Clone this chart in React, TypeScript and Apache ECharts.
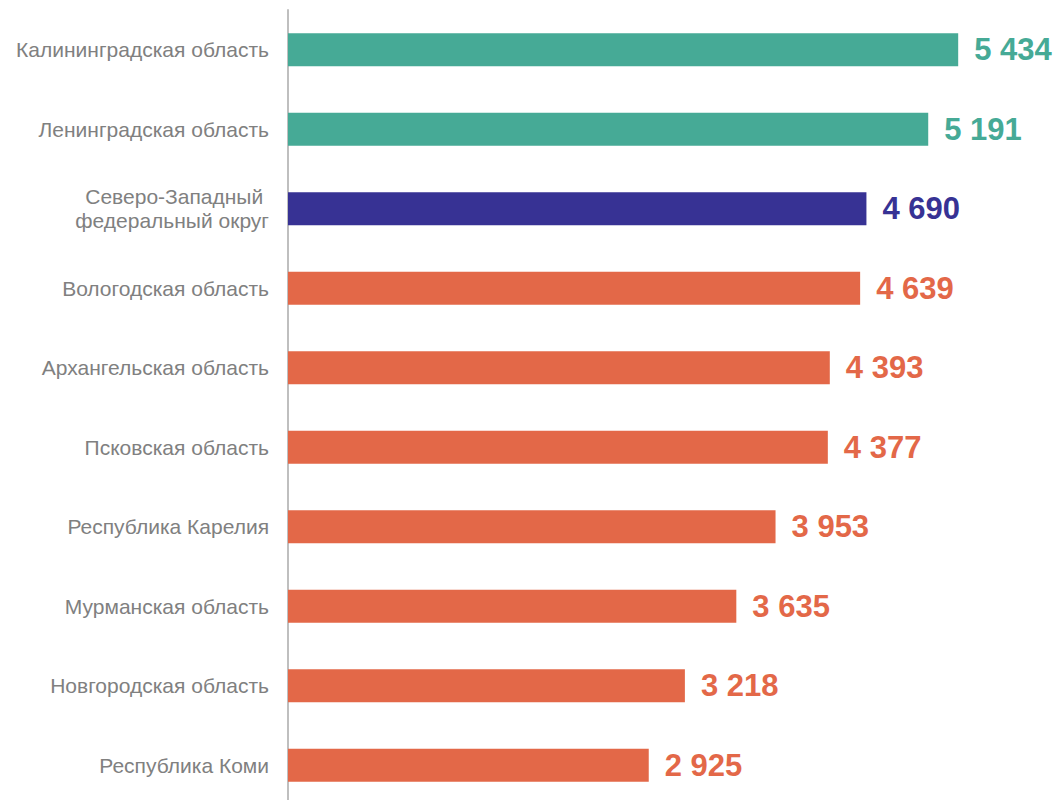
import React, { useEffect, useRef } from "react";
import * as echarts from "echarts";

const categories = [
  "Калининградская область",
  "Ленинградская область",
  "Северо-Западный \nфедеральный округ",
  "Вологодская область",
  "Архангельская область",
  "Псковская область",
  "Республика Карелия",
  "Мурманская область",
  "Новгородская область",
  "Республика Коми",
];
const values = [5434, 5191, 4690, 4639, 4393, 4377, 3953, 3635, 3218, 2925];
const barColors = [
  "#46AA96", "#46AA96", "#373294",
  "#E36848", "#E36848", "#E36848", "#E36848", "#E36848", "#E36848", "#E36848",
];

const fmt = (v: number) => {
  const s = String(v);
  return s.replace(/\B(?=(\d{3})+(?!\d))/g, " ");
};

export default function App() {
  const ref = useRef<HTMLDivElement>(null);
  useEffect(() => {
    document.body.style.margin = "0";
    document.body.style.overflow = "hidden";
    const chart = echarts.init(ref.current!, null, { renderer: "svg" });
    chart.setOption({
      animation: false,
      grid: { left: 288, right: 30, top: 10, bottom: 0, containLabel: false },
      xAxis: {
        type: "value",
        min: 0,
        max: 6000,
        show: false,
      },
      yAxis: {
        type: "category",
        inverse: true,
        data: categories,
        axisLine: { show: true, lineStyle: { color: "#BFBFBF", width: 2 } },
        axisTick: { show: false },
        axisLabel: {
          margin: 19,
          color: "#808080",
          fontSize: 21,
          fontFamily: "Liberation Sans, Arial, sans-serif",
          lineHeight: 24,
        },
      },
      series: [
        {
          type: "bar",
          barWidth: 33,
          data: values.map((v, i) => ({
            value: v,
            itemStyle: { color: barColors[i] },
            label: { color: barColors[i] },
          })),
          label: {
            show: true,
            position: "right",
            distance: 16,
            fontSize: 31,
            fontWeight: "bold",
            fontFamily: "Liberation Sans, Arial, sans-serif",
            formatter: (p: any) => fmt(p.value),
          },
        },
      ],
    });
    return () => chart.dispose();
  }, []);
  return <div ref={ref} style={{ width: 1058, height: 805 }} />;
}
